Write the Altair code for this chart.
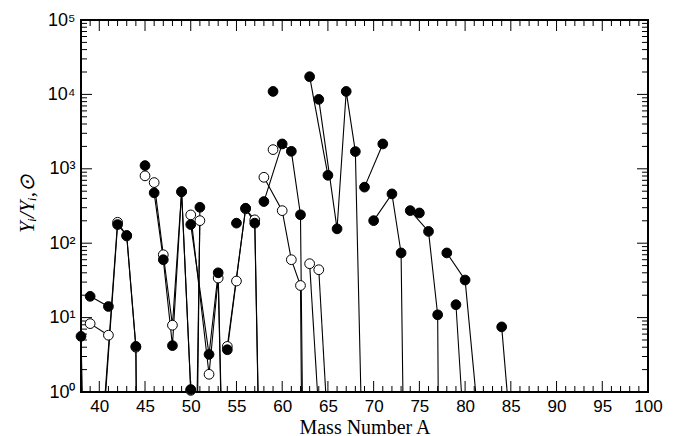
import altair as alt
import pandas as pd

# ---- data: isotopes per element (mass number, filled-model yield, open-model yield)
ar_A = [38, 40];               ar_f = [5.6, 1e-10];                 ar_o = [None, None]
k_A  = [39, 41];               k_f  = [19.3, 14.1];                 k_o  = [8.3, 5.8]
ca_A = [40, 42, 43, 44, 46];   ca_f = [0.06, 178, 127, 4.1, 1e-30]; ca_o = [0.08, 191, 125, 4.0, 1e-30]
sc_A = [45];                   sc_f = [1105];                       sc_o = [804]
ti_A = [46, 47, 48, 49, 50];   ti_f = [475, 60, 4.2, 494, 1.08];    ti_o = [653, 70, 7.9, 490, 1.05]
v_A  = [50, 51];               v_f  = [1.4e-8, 304];                v_o  = [4e-6, 201]
cr_A = [50, 52, 53, 54];       cr_f = [178, 3.2, 40, 2e-4];         cr_o = [240, 1.73, 34, 1e-4]
mn_A = [55];                   mn_f = [186];                        mn_o = [31]
fe_A = [54, 56, 57, 58];       fe_f = [3.7, 295, 186, 6e-5];        fe_o = [4.1, 290, 206, 8e-5]
co_A = [59];                   co_f = [10960];                      co_o = [1811]
ni_A = [58, 60, 61, 62, 64];   ni_f = [363, 2158, 1718, 241, 1e-21]; ni_o = [769, 274, 60, 27, 1e-27]
cu_A = [63, 65];               cu_f = [17290, 818];                 cu_o = [53, 0.005]
zn_A = [64, 66, 67, 68, 70];   zn_f = [8570, 156, 10960, 1705, 3e-8]; zn_o = [44, 0.002, None, None, None]
ga_A = [69, 71];               ga_f = [567, 2158];                  ga_o = [None, None]
ge_A = [70, 72, 73, 74];       ge_f = [201, 460, 74, 3e-8];         ge_o = [None, None, None, None]
as_A = [75];                   as_f = [255];                        as_o = [None]
se_A = [74, 76, 77, 78];       se_f = [274, 144, 10.9, 1e-16];      se_o = [None, None, None, None]
br_A = [79, 81];               br_f = [14.9, 0.0018];               br_o = [None, None]
kr_A = [78, 80, 82];           kr_f = [74, 32, 0.08];               kr_o = [None, None, None]
sr_A = [84, 86];               sr_f = [7.5, 0.009];                 sr_o = [None, None]

elements = {
    "Ar": (ar_A, ar_f, ar_o), "K": (k_A, k_f, k_o), "Ca": (ca_A, ca_f, ca_o),
    "Sc": (sc_A, sc_f, sc_o), "Ti": (ti_A, ti_f, ti_o), "V": (v_A, v_f, v_o),
    "Cr": (cr_A, cr_f, cr_o), "Mn": (mn_A, mn_f, mn_o), "Fe": (fe_A, fe_f, fe_o),
    "Co": (co_A, co_f, co_o), "Ni": (ni_A, ni_f, ni_o), "Cu": (cu_A, cu_f, cu_o),
    "Zn": (zn_A, zn_f, zn_o), "Ga": (ga_A, ga_f, ga_o), "Ge": (ge_A, ge_f, ge_o),
    "As": (as_A, as_f, as_o), "Se": (se_A, se_f, se_o), "Br": (br_A, br_f, br_o),
    "Kr": (kr_A, kr_f, kr_o), "Sr": (sr_A, sr_f, sr_o),
}

# axis tick positions
x_label_vals = list(range(40, 101, 5))
x_major = list(range(40, 100, 5))
x_minor = [a for a in range(39, 100) if a % 5 != 0]
y_label_vals = [1, 10, 100, 1000, 10000, 100000]
y_major = [10, 100, 1000, 10000]
y_minor = [m * 10 ** d for d in range(0, 5) for m in range(2, 10)]

rows = []
for el, (A, f, o) in elements.items():
    for a, vf, vo in zip(A, f, o):
        if vf is not None:
            rows.append({"el": el, "model": "filled", "A": a, "Y": vf})
        if vo is not None:
            rows.append({"el": el, "model": "open", "A": a, "Y": vo})
df = pd.DataFrame(rows)
df["key"] = df["el"] + "_" + df["model"]

W, H = 567, 372
xs = alt.Scale(domain=[38, 100], nice=False, zero=False)
ys = alt.Scale(type="log", domain=[1, 100000], nice=False)

x_axis = alt.Axis(values=x_label_vals, ticks=False, domain=False, grid=False,
                  labelFont="Liberation Sans", labelFontSize=17, labelColor="black",
                  labelPadding=6, labelFlush=False, labelOverlap=False,
                  title="Mass Number A", titleFont="Liberation Serif", titleFontSize=20,
                  titleFontWeight="normal", titleColor="black", titleY=41,
                  titleBaseline="alphabetic")
y_axis = alt.Axis(values=y_label_vals, ticks=False, domain=False, grid=False,
                  labelExpr="'10' + ['⁰','¹','²','³','⁴','⁵'][round(log(datum.value)/LN10)]",
                  labelFont="Liberation Sans", labelFontSize=18, labelColor="black",
                  labelPadding=6, labelFlush=False, labelOverlap=False,
                  title="Yᵢ/Yᵢ,⊙", titleFont="Liberation Serif", titleFontStyle="italic",
                  titleFontSize=21, titleFontWeight="normal", titleColor="black",
                  titleX=-54, titleY=183, titleAlign="center", titleBaseline="middle",
                  titleAngle=270)


def X(field):
    return alt.X(field, scale=xs, axis=x_axis)


def Y(field):
    return alt.Y(field, scale=ys, axis=y_axis)


base = alt.Chart(df)
lines = base.mark_line(color="black", strokeWidth=1.1, clip=True).encode(
    x=X("A:Q"), y=Y("Y:Q"), detail="key:N")
open_pts = base.transform_filter("datum.model == 'open' && datum.Y >= 1").mark_point(
    shape="circle", filled=True, fill="white", stroke="black", strokeWidth=1,
    size=95, opacity=1).encode(x=X("A:Q"), y=Y("Y:Q"))
filled_pts = base.transform_filter("datum.model == 'filled' && datum.Y >= 1").mark_point(
    shape="circle", filled=True, fill="black", stroke="black", strokeWidth=1,
    size=95, opacity=1).encode(x=X("A:Q"), y=Y("Y:Q"))


def xticks(vals, length):
    d = pd.DataFrame({"t": vals})
    bottom = alt.Chart(d).mark_rule(color="black", strokeWidth=1).encode(
        x=X("t:Q"), y=alt.value(H), y2=alt.value(H - length))
    top = alt.Chart(d).mark_rule(color="black", strokeWidth=1).encode(
        x=X("t:Q"), y=alt.value(0), y2=alt.value(length))
    return [bottom, top]


def yticks(vals, length):
    d = pd.DataFrame({"t": vals})
    left = alt.Chart(d).mark_rule(color="black", strokeWidth=1).encode(
        y=Y("t:Q"), x=alt.value(0), x2=alt.value(length))
    right = alt.Chart(d).mark_rule(color="black", strokeWidth=1).encode(
        y=Y("t:Q"), x=alt.value(W), x2=alt.value(W - length))
    return [left, right]


layers = (xticks(x_major, 11) + xticks(x_minor, 6) + yticks(y_major, 11)
          + yticks(y_minor, 6) + [lines, open_pts, filled_pts])

chart = alt.layer(*layers).properties(
    width=W, height=H,
    autosize=alt.AutoSizeParams(type="none"),
    padding={"left": 81, "top": 20, "right": 31, "bottom": 44},
    background="white",
).configure_view(stroke="black", strokeWidth=2)

chart.save("out.html", embed_options={"renderer": "svg", "actions": False})
